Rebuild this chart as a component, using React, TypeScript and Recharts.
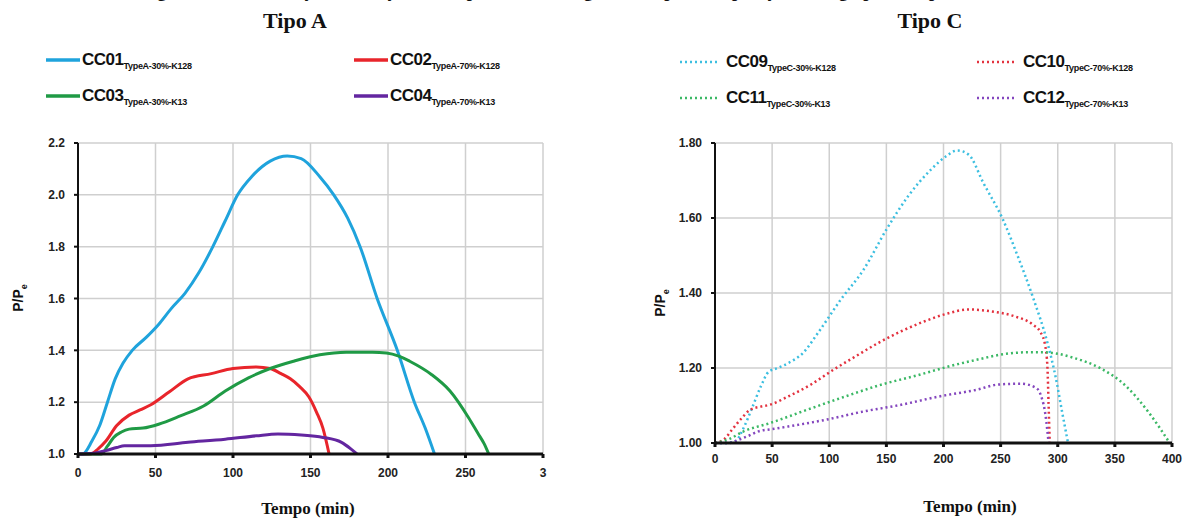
import React from 'react';
import { LineChart, Line, XAxis, YAxis, CartesianGrid } from 'recharts';

// Tipo A
const cc01T = [0, 3, 9, 14, 19, 24, 29, 35, 44, 52, 60, 69, 78, 87, 95, 103, 112, 124, 135, 144, 156, 165, 174, 182, 193, 206, 217, 224, 230];
const cc01P = [1.0, 1.0, 1.05, 1.11, 1.2, 1.29, 1.35, 1.4, 1.45, 1.5, 1.56, 1.62, 1.7, 1.8, 1.9, 2.0, 2.07, 2.13, 2.15, 2.14, 2.07, 2.0, 1.91, 1.8, 1.6, 1.4, 1.2, 1.1, 1.0];
const cc02T = [0, 8, 13, 18, 25, 33, 40, 47, 59, 71, 86, 100, 115, 124, 131, 137, 143, 149, 154, 158, 162];
const cc02P = [1.0, 1.0, 1.02, 1.05, 1.11, 1.15, 1.17, 1.19, 1.24, 1.29, 1.31, 1.33, 1.336, 1.33, 1.31, 1.29, 1.26, 1.22, 1.16, 1.1, 1.0];
const cc03T = [0, 15, 19, 23, 28, 33, 42, 52, 66, 81, 95, 110, 124, 139, 156, 173, 190, 199, 207, 214, 228, 240, 252, 258, 262, 265];
const cc03P = [1.0, 1.0, 1.03, 1.064, 1.085, 1.096, 1.1, 1.115, 1.147, 1.185, 1.243, 1.294, 1.33, 1.358, 1.383, 1.393, 1.393, 1.39, 1.378, 1.358, 1.307, 1.243, 1.14, 1.08, 1.04, 1.0];
const cc04T = [0, 10, 18, 25, 30, 47, 71, 95, 115, 129, 144, 158, 170, 176, 180];
const cc04P = [1.0, 1.003, 1.013, 1.025, 1.032, 1.032, 1.045, 1.057, 1.07, 1.077, 1.073, 1.064, 1.045, 1.02, 1.0];

// Tipo C
const cc09T = [0, 10, 18, 25, 32, 40, 47, 55, 64, 77, 90, 110, 130, 150, 169, 189, 202, 212, 222, 235, 252, 265, 278, 291, 298, 304, 309];
const cc09P = [1.0, 1.0, 1.005, 1.04, 1.09, 1.15, 1.19, 1.2, 1.213, 1.24, 1.293, 1.382, 1.462, 1.569, 1.658, 1.729, 1.764, 1.78, 1.769, 1.693, 1.596, 1.498, 1.391, 1.267, 1.178, 1.08, 1.0];
const cc10T = [0, 8, 15, 23, 31, 40, 48, 64, 84, 104, 123, 143, 163, 183, 202, 222, 242, 262, 278, 285, 289, 291, 292, 293];
const cc10P = [1.0, 1.01, 1.036, 1.065, 1.089, 1.097, 1.102, 1.124, 1.156, 1.196, 1.231, 1.267, 1.298, 1.324, 1.344, 1.356, 1.351, 1.338, 1.316, 1.295, 1.26, 1.2, 1.1, 1.0];
const cc11T = [0, 12, 25, 48, 81, 114, 146, 179, 202, 229, 255, 275, 288, 300, 314, 337, 360, 380, 398];
const cc11P = [1.0, 1.01, 1.031, 1.053, 1.089, 1.124, 1.156, 1.182, 1.202, 1.222, 1.238, 1.242, 1.242, 1.238, 1.227, 1.2, 1.151, 1.08, 1.0];
const cc12T = [0, 12, 21, 30, 38, 50, 64, 97, 130, 163, 196, 229, 248, 268, 281, 286, 289, 291, 292];
const cc12P = [1.0, 1.0, 1.009, 1.02, 1.031, 1.037, 1.044, 1.062, 1.084, 1.102, 1.124, 1.142, 1.156, 1.158, 1.147, 1.12, 1.08, 1.03, 1.0];

const ticksA = [0, 50, 100, 150, 200, 250, 300];
const ticksAY = [1.0, 1.2, 1.4, 1.6, 1.8, 2.0, 2.2];
const ticksC = [0, 50, 100, 150, 200, 250, 300, 350, 400];
const ticksCY = [1.0, 1.2, 1.4, 1.6, 1.8];

const seriesA = [
  { name: 'CC01', sub: 'TypeA-30%-K128', t: cc01T, p: cc01P, color: '#1fa3dc' },
  { name: 'CC02', sub: 'TypeA-70%-K128', t: cc02T, p: cc02P, color: '#e8252b' },
  { name: 'CC03', sub: 'TypeA-30%-K13', t: cc03T, p: cc03P, color: '#1f9a45' },
  { name: 'CC04', sub: 'TypeA-70%-K13', t: cc04T, p: cc04P, color: '#6326a0' },
];
const seriesC = [
  { name: 'CC09', sub: 'TypeC-30%-K128', t: cc09T, p: cc09P, color: '#3cbfe0' },
  { name: 'CC10', sub: 'TypeC-70%-K128', t: cc10T, p: cc10P, color: '#e3323f' },
  { name: 'CC11', sub: 'TypeC-30%-K13', t: cc11T, p: cc11P, color: '#3bb865' },
  { name: 'CC12', sub: 'TypeC-70%-K13', t: cc12T, p: cc12P, color: '#8446be' },
];

const toData = (t: number[], p: number[]) => t.map((x, i) => ({ t: x, p: p[i] }));

const tickFont = { fontFamily: '"Liberation Sans Narrow", "Liberation Sans", Arial', fontWeight: 700, fontSize: 12, fill: '#222' };
const serif = '"Liberation Serif", "Times New Roman", serif';
const sans = '"Liberation Sans", Arial, sans-serif';

const LegendItem = ({ x, y, s, dotted }: any) => (
  <div style={{ position: 'absolute', left: x, top: y - 11, height: 22, display: 'flex', alignItems: 'center', whiteSpace: 'nowrap' }}>
    <svg width={dotted ? 40 : 34} height={6} style={{ marginRight: dotted ? 6 : 2 }}>
      <line x1={0} y1={3} x2={dotted ? 40 : 34} y2={3} stroke={s.color} strokeWidth={dotted ? 2.5 : 3.5} strokeDasharray={dotted ? '2 3' : undefined} />
    </svg>
    <span style={{ fontFamily: sans, fontWeight: 700, fontSize: 17, color: '#111', letterSpacing: -0.5 }}>
      {s.name}
      <sub style={{ fontFamily: '"Liberation Sans Narrow", Arial', fontSize: 9, fontWeight: 700, verticalAlign: -4, letterSpacing: -0.3 }}>{s.sub}</sub>
    </span>
  </div>
);

const YTitle = ({ x, y }: any) => (
  <div style={{ position: 'absolute', left: x - 30, top: y - 10, width: 60, height: 20, textAlign: 'center', transform: 'rotate(-90deg)', fontFamily: sans, fontWeight: 700, fontSize: 14, color: '#111', lineHeight: '20px' }}>
    P/P<sub style={{ fontSize: 9 }}>e</sub>
  </div>
);

const XTitle = ({ x, y }: any) => (
  <div style={{ position: 'absolute', left: x - 80, top: y - 11, width: 160, textAlign: 'center', fontFamily: serif, fontWeight: 700, fontSize: 17, color: '#111', lineHeight: '22px' }}>
    Tempo (min)
  </div>
);

const App: React.FC = () => {
  return (
    <div style={{ position: 'absolute', left: 0, top: 0, width: 1189, height: 522, background: '#fff', overflow: 'hidden' }}>
      {/* caption of the figure, cut off by the top edge as in the source */}
      <div style={{ position: 'absolute', left: 140, top: -19, fontFamily: serif, fontWeight: 700, fontSize: 18, color: '#111', whiteSpace: 'nowrap', letterSpacing: 0.6 }}>
        Figura 5.12 – Evolução da força de compressão ao longo do tempo de exposição ao fogo para os pilares
      </div>

      <div style={{ position: 'absolute', left: 245, top: 8, width: 100, textAlign: 'center', fontFamily: serif, fontWeight: 700, fontSize: 22, color: '#111' }}>Tipo A</div>
      <div style={{ position: 'absolute', left: 880, top: 8, width: 100, textAlign: 'center', fontFamily: serif, fontWeight: 700, fontSize: 22, color: '#111' }}>Tipo C</div>

      <LegendItem x={46} y={60} s={seriesA[0]} />
      <LegendItem x={354} y={60} s={seriesA[1]} />
      <LegendItem x={46} y={96} s={seriesA[2]} />
      <LegendItem x={354} y={96} s={seriesA[3]} />

      <LegendItem x={680} y={62} s={seriesC[0]} dotted />
      <LegendItem x={977} y={62} s={seriesC[1]} dotted />
      <LegendItem x={680} y={98} s={seriesC[2]} dotted />
      <LegendItem x={977} y={98} s={seriesC[3]} dotted />

      <div style={{ position: 'absolute', left: 0, top: 0 }}>
        <LineChart width={560} height={522} margin={{ top: 143, right: 17, bottom: 0, left: 0 }}>
          <CartesianGrid stroke="#cfcfcf" strokeWidth={1.5} />
          <XAxis type="number" dataKey="t" domain={[0, 300]} ticks={ticksA} allowDuplicatedCategory={false}
            height={68} tick={tickFont} tickSize={4} tickMargin={10} stroke="#111" strokeWidth={3}
            tickFormatter={(v: number) => (v === 300 ? '3' : String(v))} />
          <YAxis type="number" domain={[1, 2.2]} ticks={ticksAY} width={78} tick={tickFont} tickSize={4} tickMargin={9}
            stroke="#111" strokeWidth={2} tickFormatter={(v: number) => v.toFixed(1)} />
          {seriesA.map((s) => (
            <Line key={s.name} data={toData(s.t, s.p)} dataKey="p" type="monotone" stroke={s.color} strokeWidth={3}
              dot={false} activeDot={false} isAnimationActive={false} />
          ))}
        </LineChart>
      </div>

      <div style={{ position: 'absolute', left: 600, top: 0 }}>
        <LineChart width={589} height={522} margin={{ top: 143, right: 17, bottom: 0, left: 0 }}>
          <CartesianGrid stroke="#cfcfcf" strokeWidth={1.5} />
          <XAxis type="number" dataKey="t" domain={[0, 400]} ticks={ticksC} allowDuplicatedCategory={false}
            height={79} tick={tickFont} tickSize={4} tickMargin={7} stroke="#111" strokeWidth={3} />
          <YAxis type="number" domain={[1, 1.8]} ticks={ticksCY} width={115} tick={tickFont} tickSize={4} tickMargin={9}
            stroke="#111" strokeWidth={2} tickFormatter={(v: number) => v.toFixed(2)} />
          {seriesC.map((s) => (
            <Line key={s.name} data={toData(s.t, s.p)} dataKey="p" type="monotone" stroke={s.color} strokeWidth={2.5}
              strokeDasharray="2 3" dot={false} activeDot={false} isAnimationActive={false} />
          ))}
        </LineChart>
      </div>

      <YTitle x={18} y={298} />
      <YTitle x={660} y={303} />
      <XTitle x={308} y={509} />
      <XTitle x={970} y={507} />
    </div>
  );
};

export default App;
